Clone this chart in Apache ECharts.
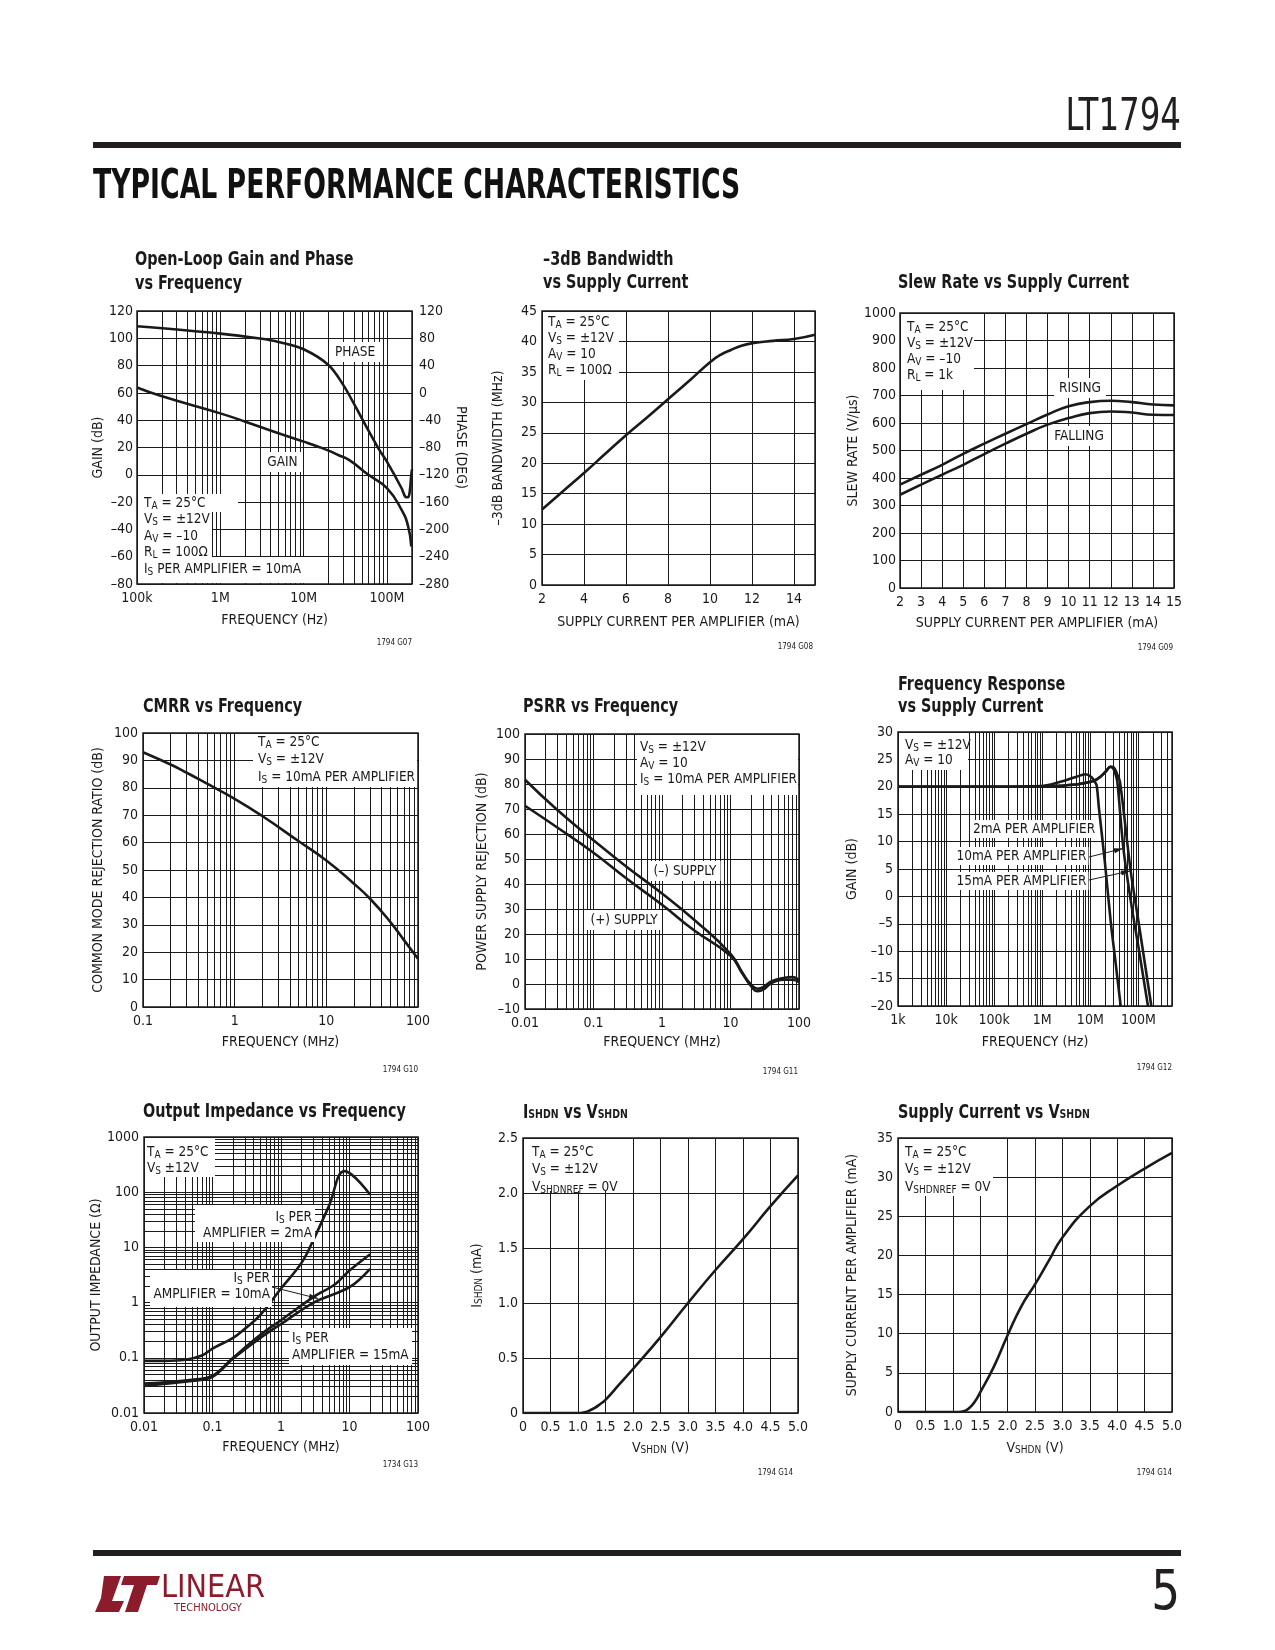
<!DOCTYPE html>
<html><head><meta charset="utf-8">
<script src="https://cdn.jsdelivr.net/npm/echarts@6/dist/echarts.min.js"></script>
<style>html,body{margin:0;padding:0;background:#fff}#c{width:1275px;height:1650px}</style>
</head><body><div id="c"></div>
<script>
// ---------------- DATA ----------------
// 1. Open-Loop Gain and Phase vs Frequency
const olGainFreqHz = [1e5, 2e5, 1e6, 2e6, 5e6, 1e7, 1.5e7, 2e7, 2.6e7, 3.5e7, 6e7, 1e8, 1.5e8, 1.8e8, 1.96e8];
const olGainDb = [64, 57.5, 45, 38.9, 30.4, 24.3, 20.6, 17.7, 14.5, 10.9, 0, -9.8, -25.7, -37.9, -52.5];
const olPhaseFreqHz = [1e5, 1e6, 3e6, 5e6, 1e7, 2e7, 3e7, 4e7, 5e7, 7.9e7, 1e8, 1.5e8, 1.66e8, 1.79e8, 1.88e8, 1.96e8, 2e8];
const olPhaseDeg = [97.6, 86.9, 79.6, 74.7, 64, 40.6, 11.4, -15.4, -37.4, -81.2, -100.7, -139.7, -152, -153, -144.5, -120, -112];
const olTickHz = [1e5, 1e6, 1e7, 1e8];
const olTickText = ['100k', '1M', '10M', '100M'];

// 2. -3dB Bandwidth vs Supply Current
const bwCurrentMa = [2, 3, 4, 5, 6, 7, 8, 9, 10, 10.5, 11, 11.5, 12, 13, 14, 15];
const bwMHz = [12.4, 15.4, 18.4, 21.5, 24.6, 27.5, 30.5, 33.5, 36.6, 37.8, 38.6, 39.3, 39.7, 40.1, 40.4, 41.1];

// 3. Slew Rate vs Supply Current
const srCurrentMa = [2, 3, 4, 5, 6, 7, 8, 9, 10, 11, 12, 13, 14, 15];
const srRising = [376, 412, 448, 488, 525, 561, 596, 631, 661, 676, 681, 676, 667, 664];
const srFalling = [339, 376, 412, 448, 487, 525, 561, 594, 618, 636, 642, 638, 630, 629];

// 4. CMRR vs Frequency
const cmrrFreqMHz = [0.1, 0.2, 0.3, 0.5, 1, 2, 5, 10, 20, 30, 50, 70, 100];
const cmrrDb = [93, 88.5, 85.5, 81.5, 76, 69.7, 60.5, 53.5, 45, 39.5, 31, 24.5, 17.6];
const cmrrTickMHz = [0.1, 1, 10, 100];
const cmrrTickText = ['0.1', '1', '10', '100'];

// 5. PSRR vs Frequency
const psrrFreqMHz = [0.01, 0.03, 0.1, 0.3, 1, 3, 10, 15, 20, 25, 30, 40, 60, 80, 100];
const psrrNegDb = [81.7, 69.5, 57.5, 47, 36.2, 25.5, 12.1, 4.4, -0.3, -1.9, -1.3, 1.1, 2.4, 2.8, 1.5];
const psrrPosDb = [71.3, 62.5, 52.5, 42.3, 31.7, 21.3, 11.3, 4.1, -0.9, -2.9, -2.3, 0.4, 1.7, 1.7, 0.7];
const psrrTickMHz = [0.01, 0.1, 1, 10, 100];
const psrrTickText = ['0.01', '0.1', '1', '10', '100'];

// 6. Frequency Response vs Supply Current
const fr2mAFreqHz = [1e3, 1e5, 1e6, 2.4e6, 5e6, 8e6, 1.05e7, 1.2e7, 1.35e7, 1.51e7, 2e7, 2.65e7, 3.4e7, 4.28e7];
const fr2mAGainDb = [20, 20, 20.15, 20.9, 21.8, 22.3, 21.8, 21.1, 20.3, 16.1, 6.4, -4.5, -12.5, -20];
const fr10mAFreqHz = [1e3, 1e5, 1e6, 2.4e6, 6e6, 1.2e7, 1.6e7, 2.1e7, 2.6e7, 3e7, 3.3e7, 3.65e7, 4.87e7, 7e7, 1e8, 1.58e8];
const fr10mAGainDb = [20, 20, 20.05, 20.2, 20.5, 21.1, 21.8, 22.8, 23.6, 23.3, 22.5, 20.9, 8.8, -1, -9.2, -20];
const fr15mAFreqHz = [1e3, 1e5, 1e6, 2.4e6, 6e6, 1.2e7, 1.6e7, 2.1e7, 2.65e7, 3.1e7, 3.6e7, 4.14e7, 6.9e7, 1e8, 1.86e8];
const fr15mAGainDb = [20, 20, 20.05, 20.2, 20.5, 21.1, 21.8, 22.8, 23.7, 23.5, 22.3, 20.9, 4.7, -4.5, -20];
const frTickHz = [1e3, 1e4, 1e5, 1e6, 1e7, 1e8];
const frTickText = ['1k', '10k', '100k', '1M', '10M', '100M'];

// 7. Output Impedance vs Frequency
const zo2mAFreqMHz = [0.01, 0.02, 0.04, 0.07, 0.1, 0.2, 0.3, 0.5, 1, 2, 3, 5, 8.5, 20];
const zo2mAOhm = [0.088, 0.088, 0.092, 0.11, 0.147, 0.23, 0.34, 0.6, 1.8, 5.3, 14, 56, 241, 90];
const zo10mAFreqMHz = [0.01, 0.05, 0.1, 0.2, 0.5, 1, 3, 6, 10, 20];
const zo10mAOhm = [0.034, 0.04, 0.047, 0.1, 0.26, 0.48, 1.27, 2.1, 3.8, 7.5];
const zo15mAFreqMHz = [0.01, 0.05, 0.1, 0.2, 0.5, 1, 3, 10, 20];
const zo15mAOhm = [0.031, 0.038, 0.045, 0.097, 0.23, 0.41, 1.0, 1.9, 4.1];
const zoTickMHz = [0.01, 0.1, 1, 10, 100];
const zoTickText = ['0.01', '0.1', '1', '10', '100'];
const zoTickOhm = [0.01, 0.1, 1, 10, 100, 1000];
const zoTickOhmText = ['0.01', '0.1', '1', '10', '100', '1000'];

// 8. ISHDN vs VSHDN
const ishdnV = [0, 0.5, 1.0, 1.1, 1.2, 1.3, 1.4, 1.5, 1.75, 2.0, 2.5, 3.0, 3.5, 4.0, 4.5, 5.0];
const ishdnMa = [0, 0, 0, 0.005, 0.02, 0.045, 0.08, 0.12, 0.26, 0.40, 0.69, 1.0, 1.30, 1.58, 1.88, 2.16];

// 9. Supply Current vs VSHDN
const iccV = [0, 0.5, 1.0, 1.1, 1.2, 1.3, 1.4, 1.5, 1.75, 2.0, 2.25, 2.5, 2.75, 3.0, 3.5, 4.0, 4.5, 5.0];
const iccMa = [0, 0, 0, 0, 0.1, 0.5, 1.3, 2.5, 5.8, 9.8, 13.5, 16.3, 19.3, 22.3, 26.3, 28.9, 31.1, 33.1];

// ---------------- BUILD ----------------
const INK = '#1a1a1a';
const FONT = '"Liberation Sans Narrow", "DejaVu Sans Condensed", Roboto, sans-serif';
const grids = [], xAxes = [], yAxes = [], series = [], graphics = [];

function dash(v) { return String(v).replace('-', '\u2013'); }
function plain(v) { return String(v); }
function logFmt(ticks, texts) {
  return v => { const i = ticks.findIndex(t => Math.abs(Math.log10(v / t)) < 1e-6); return i < 0 ? '' : texts[i]; };
}
function logMinors(min, max) {
  const out = [];
  for (let d = Math.floor(Math.log10(min)); d <= Math.ceil(Math.log10(max)); d++) {
    for (let k = 2; k <= 9; k++) { const v = k * Math.pow(10, d); if (v > min * 1.0001 && v < max * 0.9999) out.push(v); }
  }
  return out;
}
const nameRich = { s: { fontSize: 10, fontFamily: FONT, color: INK, lineHeight: 6, verticalAlign: 'bottom' } };
function addGrid(l, t, w, h) {
  grids.push({ left: l, top: t, width: w, height: h, show: true, borderColor: INK, borderWidth: 1.5, containLabel: false });
  return grids.length - 1;
}
function axis(gi, o) {
  const a = {
    type: o.log ? 'log' : 'value', gridIndex: gi, min: o.min, max: o.max,
    axisLine: { show: false }, axisTick: { show: false }, minorTick: { show: false },
    splitLine: { show: o.split !== false, lineStyle: { color: INK, width: 1 } },
    axisLabel: { color: INK, fontFamily: FONT, fontSize: 14, margin: o.margin != null ? o.margin : 5, formatter: o.fmt || plain, showMinLabel: true, showMaxLabel: true },
    name: o.name, nameLocation: 'middle', nameGap: o.gap,
    nameTextStyle: { color: INK, fontFamily: FONT, fontSize: 14, rich: nameRich }
  };
  if (o.log) a.logBase = 10;
  if (o.interval != null) a.interval = o.interval;
  if (o.rot != null) a.nameRotate = o.rot;
  if (o.position) a.position = o.position;
  return a;
}
function curve(xi, yi, xs, ys, smooth) {
  series.push({
    type: 'line', xAxisIndex: xi, yAxisIndex: yi, data: xs.map((x, i) => [x, ys[i]]),
    showSymbol: false, symbol: 'none', smooth: smooth == null ? 0.5 : smooth, silent: true, z: 5,
    lineStyle: { color: INK, width: 2.6 }
  });
}
function minorLines(xi, yi, xs, ys, anchor) {
  const data = [];
  xs.forEach(v => data.push({ xAxis: v }));
  ys.forEach(v => data.push({ yAxis: v }));
  series.push({
    type: 'line', xAxisIndex: xi, yAxisIndex: yi, data: [anchor], showSymbol: false, symbol: 'none', silent: true, z: 1,
    lineStyle: { opacity: 0 },
    markLine: { silent: true, symbol: ['none', 'none'], label: { show: false }, animation: false,
      lineStyle: { color: INK, width: 1, type: 'solid' }, emphasis: { disabled: true }, data }
  });
}
function txt(x, y, text, o) {
  o = o || {};
  const el = {
    type: 'text', x, y, z: o.z || 50, silent: true,
    style: {
      text, x: 0, y: 0, fill: o.fill || INK,
      fontSize: o.size || 13.5, fontFamily: o.family || FONT, fontWeight: o.weight || 'normal',
      align: o.align || 'left', verticalAlign: o.va || 'middle', lineHeight: o.lh || 16,
      rich: { s: { fontSize: o.subSize || 10, fontFamily: o.family || FONT, fontWeight: o.weight || 'normal', lineHeight: o.subLh || 6, verticalAlign: 'bottom', fill: o.fill || INK } }
    }
  };
  if (o.bg) { el.style.backgroundColor = o.bg; el.style.padding = o.pad || [1, 4, 1, 4]; }
  if (o.scaleX) el.scaleX = o.scaleX;
  if (o.scaleY) el.scaleY = o.scaleY;
  graphics.push(el);
}
function box(x, y, w, h) {
  graphics.push({ type: 'rect', z: 40, silent: true, shape: { x, y, width: w, height: h }, style: { fill: '#fff' } });
}
function lines(x, yc, arr, step) {
  arr.forEach((t, i) => txt(x, yc + i * step, t));
}
function arrow(x1, y1, x2, y2) {
  graphics.push({ type: 'line', z: 60, silent: true, shape: { x1, y1, x2, y2 }, style: { stroke: INK, lineWidth: 1 } });
  const a = Math.atan2(y2 - y1, x2 - x1), L = 9, W = 2.6;
  const bx = x2 - L * Math.cos(a), by = y2 - L * Math.sin(a);
  graphics.push({ type: 'polygon', z: 60, silent: true, shape: { points: [[x2, y2], [bx - W * Math.sin(a), by + W * Math.cos(a)], [bx + W * Math.sin(a), by - W * Math.cos(a)]] }, style: { fill: INK } });
}
function title(x, y, t) { txt(x, y, t, { size: 20, weight: 'bold', subSize: 13, subLh: 8, scaleX: 0.8 }); }
function code(xr, y, t) { txt(xr, y, t, { size: 8, align: 'right' }); }

// ---- Chart 1: Open-loop gain & phase ----
let g = addGrid(137, 311, 275, 273);
xAxes.push(axis(g, { log: true, min: 1e5, max: 2e8, fmt: logFmt(olTickHz, olTickText), margin: 7, name: 'FREQUENCY (Hz)', gap: 29 }));
yAxes.push(axis(g, { min: -80, max: 120, interval: 20, fmt: dash, margin: 4, name: 'GAIN (dB)', gap: 32 }));
yAxes.push(axis(g, { min: -280, max: 120, interval: 40, fmt: dash, margin: 7, split: false, position: 'right', name: 'PHASE (DEG)', gap: 41, rot: -90 }));
minorLines(0, 0, logMinors(1e5, 2e8), [], [1e5, -80]);
curve(0, 0, olGainFreqHz, olGainDb);
curve(0, 1, olPhaseFreqHz, olPhaseDeg, 0.35);
title(135, 260, 'Open-Loop Gain and Phase'); title(135, 283.5, 'vs Frequency');
txt(355, 352, 'PHASE', { align: 'center', bg: '#fff', pad: [2, 5, 2, 5] });
txt(282.5, 462, 'GAIN', { align: 'center', bg: '#fff', pad: [2, 5, 2, 5] });
box(138, 494, 100, 18); box(138, 494, 74, 64); box(138, 557, 166, 26);
lines(144, 503, ['T{s|A} = 25°C', 'V{s|S} = ±12V', 'A{s|V} = \u201310', 'R{s|L} = 100\u03A9', 'I{s|S} PER AMPLIFIER = 10mA'], 16.5);
code(412, 643, '1794 G07');

// ---- Chart 2: -3dB bandwidth ----
g = addGrid(542, 311, 273, 274);
xAxes.push(axis(g, { min: 2, max: 15, interval: 2, fmt: v => (v === 15 ? '' : String(v)), margin: 7, name: 'SUPPLY CURRENT PER AMPLIFIER (mA)', gap: 30 }));
yAxes.push(axis(g, { min: 0, max: 45, interval: 5, margin: 5, name: '\u20133dB BANDWIDTH (MHz)', gap: 37 }));
curve(1, 2, bwCurrentMa, bwMHz);
title(543, 260, '\u20133dB Bandwidth'); title(543, 283, 'vs Supply Current');
box(543, 312, 76, 68);
lines(548, 322, ['T{s|A} = 25°C', 'V{s|S} = ±12V', 'A{s|V} = 10', 'R{s|L} = 100\u03A9'], 16.3);
code(813, 647, '1794 G08');

// ---- Chart 3: Slew rate ----
g = addGrid(900, 313, 274, 275);
xAxes.push(axis(g, { min: 2, max: 15, interval: 1, margin: 7, name: 'SUPPLY CURRENT PER AMPLIFIER (mA)', gap: 28 }));
yAxes.push(axis(g, { min: 0, max: 1000, interval: 100, margin: 4, name: 'SLEW RATE (V/\u00B5s)', gap: 38 }));
curve(2, 3, srCurrentMa, srRising);
curve(2, 3, srCurrentMa, srFalling);
title(898, 283, 'Slew Rate vs Supply Current');
box(901, 314, 73, 76);
lines(907, 327, ['T{s|A} = 25°C', 'V{s|S} = ±12V', 'A{s|V} = \u201310', 'R{s|L} = 1k'], 16.1);
txt(1080, 388, 'RISING', { align: 'center', bg: '#fff', pad: [2, 5, 2, 5] });
txt(1079, 436, 'FALLING', { align: 'center', bg: '#fff', pad: [2, 5, 2, 5] });
code(1173, 648, '1794 G09');

// ---- Chart 4: CMRR ----
g = addGrid(143, 733, 275, 274);
xAxes.push(axis(g, { log: true, min: 0.1, max: 100, fmt: logFmt(cmrrTickMHz, cmrrTickText), margin: 7, name: 'FREQUENCY (MHz)', gap: 28 }));
yAxes.push(axis(g, { min: 0, max: 100, interval: 10, margin: 5, name: 'COMMON MODE REJECTION RATIO (dB)', gap: 38 }));
minorLines(3, 4, logMinors(0.1, 100), [], [0.1, 0]);
curve(3, 4, cmrrFreqMHz, cmrrDb);
title(143, 707, 'CMRR vs Frequency');
box(253, 734, 164, 53);
lines(258, 742, ['T{s|A} = 25°C', 'V{s|S} = ±12V', 'I{s|S} = 10mA PER AMPLIFIER'], 17.5);
code(418, 1070, '1794 G10');

// ---- Chart 5: PSRR ----
g = addGrid(525, 734, 274, 275);
xAxes.push(axis(g, { log: true, min: 0.01, max: 100, fmt: logFmt(psrrTickMHz, psrrTickText), margin: 7, name: 'FREQUENCY (MHz)', gap: 26 }));
yAxes.push(axis(g, { min: -10, max: 100, interval: 10, fmt: dash, margin: 5, name: 'POWER SUPPLY REJECTION (dB)', gap: 36 }));
minorLines(4, 5, logMinors(0.01, 100), [], [0.01, -10]);
curve(4, 5, psrrFreqMHz, psrrNegDb);
curve(4, 5, psrrFreqMHz, psrrPosDb);
title(523, 707, 'PSRR vs Frequency');
box(637, 735, 161, 60);
lines(640, 747, ['V{s|S} = ±12V', 'A{s|V} = 10', 'I{s|S} = 10mA PER AMPLIFIER'], 16);
txt(685, 871, '(\u2013) SUPPLY', { align: 'center', bg: '#fff', pad: [2, 4, 2, 4] });
txt(624, 920, '(+) SUPPLY', { align: 'center', bg: '#fff', pad: [2, 4, 2, 4] });
code(798, 1072, '1794 G11');

// ---- Chart 6: Frequency response ----
g = addGrid(898, 732, 274, 274);
xAxes.push(axis(g, { log: true, min: 1e3, max: 5e8, fmt: logFmt(frTickHz, frTickText), margin: 7, name: 'FREQUENCY (Hz)', gap: 29 }));
yAxes.push(axis(g, { min: -20, max: 30, interval: 5, fmt: dash, margin: 5, name: 'GAIN (dB)', gap: 39 }));
minorLines(5, 6, logMinors(1e3, 5e8), [], [1e3, -20]);
curve(5, 6, fr2mAFreqHz, fr2mAGainDb, 0.35);
curve(5, 6, fr10mAFreqHz, fr10mAGainDb, 0.35);
curve(5, 6, fr15mAFreqHz, fr15mAGainDb, 0.35);
title(898, 685, 'Frequency Response'); title(898, 707, 'vs Supply Current');
box(899, 733, 69, 37);
lines(905, 745, ['V{s|S} = ±12V', 'A{s|V} = 10'], 15.7);
txt(1034, 829, '2mA PER AMPLIFIER', { align: 'center', bg: '#fff', pad: [1, 2, 1, 2] });
txt(1021.5, 856, '10mA PER AMPLIFIER', { align: 'center', bg: '#fff', pad: [1, 2, 1, 2] });
txt(1021.5, 881, '15mA PER AMPLIFIER', { align: 'center', bg: '#fff', pad: [1, 2, 1, 2] });
arrow(1089, 857, 1123, 848.5);
arrow(1089, 880, 1130, 871);
code(1172, 1068, '1794 G12');

// ---- Chart 7: Output impedance ----
g = addGrid(144, 1137, 274, 276);
xAxes.push(axis(g, { log: true, min: 0.01, max: 100, fmt: logFmt(zoTickMHz, zoTickText), margin: 7, name: 'FREQUENCY (MHz)', gap: 27 }));
yAxes.push(axis(g, { log: true, min: 0.01, max: 1000, fmt: logFmt(zoTickOhm, zoTickOhmText), margin: 5, name: 'OUTPUT IMPEDANCE (\u03A9)', gap: 40 }));
minorLines(6, 7, logMinors(0.01, 100), logMinors(0.01, 1000), [0.01, 0.01]);
curve(6, 7, zo2mAFreqMHz, zo2mAOhm, 0.4);
curve(6, 7, zo10mAFreqMHz, zo10mAOhm, 0.35);
curve(6, 7, zo15mAFreqMHz, zo15mAOhm, 0.35);
title(143, 1112, 'Output Impedance vs Frequency');
box(145, 1138, 70, 39);
lines(147, 1152, ['T{s|A} = 25°C', 'V{s|S} ±12V'], 16.6);
box(195, 1205, 120, 37);
txt(312, 1217, 'I{s|S} PER', { align: 'right' }); txt(312, 1233.5, 'AMPLIFIER = 2mA', { align: 'right' });
box(150, 1270, 122, 37);
txt(270, 1278.5, 'I{s|S} PER', { align: 'right' }); txt(270, 1294.5, 'AMPLIFIER = 10mA', { align: 'right' });
arrow(272, 1287, 318, 1298.5);
box(289, 1328, 123, 37);
txt(292, 1338.5, 'I{s|S} PER'); txt(292, 1355.5, 'AMPLIFIER = 15mA');
code(418, 1465, '1734 G13');

// ---- Chart 8: ISHDN vs VSHDN ----
g = addGrid(523, 1138, 275, 275);
const vFmt = v => (v === 0 ? '0' : v.toFixed(1));
xAxes.push(axis(g, { min: 0, max: 5, interval: 0.5, fmt: vFmt, margin: 7, name: 'V{s|SHDN} (V)', gap: 28 }));
yAxes.push(axis(g, { min: 0, max: 2.5, interval: 0.5, fmt: vFmt, margin: 5, name: 'I{s|SHDN} (mA)', gap: 39 }));
curve(7, 8, ishdnV, ishdnMa);
title(523, 1113, 'I{s|SHDN} vs V{s|SHDN}');
box(524, 1139, 99, 52);
lines(532, 1152, ['T{s|A} = 25°C', 'V{s|S} = ±12V', 'V{s|SHDNREF} = 0V'], 17.5);
code(793, 1473, '1794 G14');

// ---- Chart 9: Supply current vs VSHDN ----
g = addGrid(898, 1138, 274, 274);
xAxes.push(axis(g, { min: 0, max: 5, interval: 0.5, fmt: vFmt, margin: 7, name: 'V{s|SHDN} (V)', gap: 29 }));
yAxes.push(axis(g, { min: 0, max: 35, interval: 5, margin: 5, name: 'SUPPLY CURRENT PER AMPLIFIER (mA)', gap: 39 }));
curve(8, 9, iccV, iccMa);
title(898, 1113, 'Supply Current vs V{s|SHDN}');
box(899, 1139, 94, 57);
lines(905, 1152, ['T{s|A} = 25°C', 'V{s|S} = ±12V', 'V{s|SHDNREF} = 0V'], 17.5);
code(1172, 1473, '1794 G14');

// ---- Page furniture ----
txt(1181, 119, 'LT1794', { size: 44, align: 'right', fill: '#231f20', scaleX: 0.82 });
graphics.push({ type: 'rect', silent: true, shape: { x: 93, y: 142, width: 1088, height: 6 }, style: { fill: '#231f20' } });
txt(93, 188, 'TYPICAL PERFORMANCE CHARACTERISTICS', { size: 40, weight: 'bold', fill: '#111', scaleX: 0.742 });
graphics.push({ type: 'rect', silent: true, shape: { x: 93, y: 1550, width: 1088, height: 6 }, style: { fill: '#231f20' } });
txt(1180, 1594, '5', { size: 56, align: 'right', fill: '#231f20', scaleX: 0.9 });
const LOGO = '#8c1c2c';
graphics.push({ type: 'polygon', silent: true, shape: { points: [[104, 1576], [121, 1576], [112, 1601], [124, 1601], [119, 1612], [95, 1612], [101, 1598]] }, style: { fill: LOGO } });
graphics.push({ type: 'polygon', silent: true, shape: { points: [[124, 1576], [160, 1576], [157, 1585], [147, 1585], [138, 1612], [125, 1612], [134, 1585], [121, 1585]] }, style: { fill: LOGO } });
txt(161, 1589, 'LINEAR', { size: 32, weight: 'normal', fill: LOGO, scaleX: 1.0 });
txt(174, 1608, 'TECHNOLOGY', { size: 11, fill: LOGO });

const chart = echarts.init(document.getElementById('c'), null, { renderer: 'canvas', width: 1275, height: 1650 });
chart.setOption({
  animation: false,
  backgroundColor: '#fff',
  grid: grids, xAxis: xAxes, yAxis: yAxes, series: series, graphic: graphics
});
</script></body></html>
